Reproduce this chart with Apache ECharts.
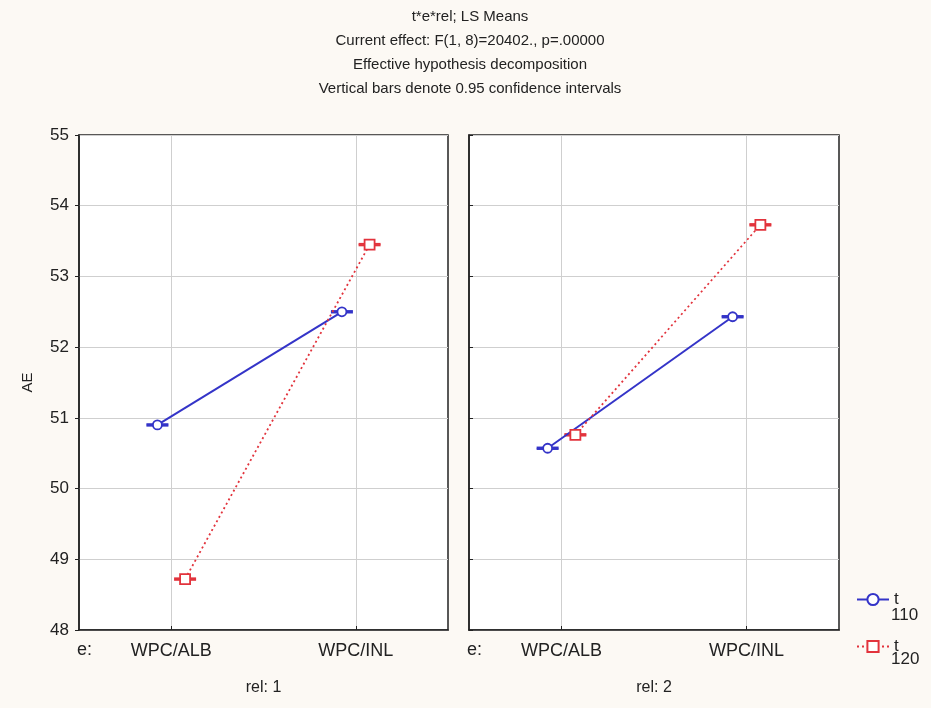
<!DOCTYPE html>
<html>
<head>
<meta charset="utf-8">
<script src="https://cdn.jsdelivr.net/npm/echarts@6/dist/echarts.min.js"></script>
<style>
  html, body { margin: 0; padding: 0; background: #fcf9f4; }
  #chart { width: 931px; height: 708px; }
</style>
</head>
<body>
<div id="chart"></div>
<script>
const categories = ["WPC/ALB", "WPC/INL"];
const panels = ["rel: 1", "rel: 2"];
const groups = ["110", "120"];

// LS means per panel (rel) and group (t)
const rel1T110 = [50.9, 52.5];
const rel1T120 = [48.72, 53.45];
const rel2T110 = [50.57, 52.43];
const rel2T120 = [50.76, 53.73];

// half-width of the 0.95 confidence intervals
const rel1T110Ci = [0.01, 0.01];
const rel1T120Ci = [0.01, 0.01];
const rel2T110Ci = [0.01, 0.01];
const rel2T120Ci = [0.01, 0.01];

const yTicks = [48, 49, 50, 51, 52, 53, 54, 55];

const FONT = "'Liberation Sans', Arial, sans-serif";
const BLUE = "#3434c8";
const RED = "#e2333c";
const OFFSET = 0.075;

const chartDom = document.getElementById("chart");
const chart = echarts.init(chartDom);

const pointsOf = (values, shift) =>
  values.map((v, i) => [i + 0.5 + shift, v]);
const barsOf = (values, ci, shift) =>
  values.map((v, i) => [i + 0.5 + shift, v - ci[i], v + ci[i]]);

const errorBar = (gridIdx, values, ci, shift, color) => ({
  type: "custom",
  xAxisIndex: gridIdx,
  yAxisIndex: gridIdx,
  z: 1,
  silent: true,
  data: barsOf(values, ci, shift),
  renderItem: (params, api) => {
    const lo = api.coord([api.value(0), api.value(1)]);
    const hi = api.coord([api.value(0), api.value(2)]);
    const w = 11;
    const style = { stroke: color, lineWidth: 2 };
    return {
      type: "group",
      children: [
        { type: "line", shape: { x1: lo[0], y1: lo[1], x2: hi[0], y2: hi[1] }, style },
        { type: "line", shape: { x1: lo[0] - w, y1: lo[1], x2: lo[0] + w, y2: lo[1] }, style },
        { type: "line", shape: { x1: hi[0] - w, y1: hi[1], x2: hi[0] + w, y2: hi[1] }, style },
      ],
    };
  },
});

const lineSeries = (gridIdx, name, values, shift, color, symbol, dashed) => ({
  name: name,
  type: "line",
  xAxisIndex: gridIdx,
  yAxisIndex: gridIdx,
  z: 3,
  data: pointsOf(values, shift),
  symbol: symbol,
  symbolSize: symbol === "rect" ? 10 : 9,
  itemStyle: { color: "#fff", borderColor: color, borderWidth: 1.8 },
  lineStyle: { color: color, width: dashed ? 1.8 : 2, type: dashed ? [2, 3] : "solid" },
  emphasis: { disabled: true },
});

const xAxisFor = (gridIdx) => ({
  type: "value",
  gridIndex: gridIdx,
  min: 0,
  max: 2,
  name: panels[gridIdx],
  nameLocation: "middle",
  nameGap: 50,
  nameTextStyle: { fontFamily: FONT, fontSize: 16, color: "#222" },
  axisLine: { show: true, lineStyle: { color: "#222", width: 1.5 } },
  axisTick: { show: true, customValues: [0.5, 1.5], length: 4, inside: true, lineStyle: { color: "#222" } },
  axisLabel: {
    customValues: [0.5, 1.5],
    formatter: (v) => categories[Math.round(v - 0.5)],
    fontFamily: FONT,
    fontSize: 18,
    color: "#222",
    margin: 12,
  },
  splitLine: { show: true, lineStyle: { color: "#cfcfcf", width: 1 } },
});

const yAxisFor = (gridIdx) => ({
  type: "value",
  gridIndex: gridIdx,
  min: yTicks[0],
  max: yTicks[yTicks.length - 1],
  interval: 1,
  name: gridIdx === 0 ? "AE" : "",
  nameLocation: "middle",
  nameGap: 44,
  nameTextStyle: { fontFamily: FONT, fontSize: 15, color: "#222" },
  axisLine: { show: true, lineStyle: { color: "#222", width: 1.5 } },
  axisTick: { show: true, length: 4, inside: gridIdx === 1, lineStyle: { color: "#222" } },
  axisLabel: {
    show: gridIdx === 0,
    fontFamily: FONT,
    fontSize: 17,
    color: "#222",
    margin: 10,
  },
  splitLine: { show: true, lineStyle: { color: "#cfcfcf", width: 1 } },
});

const option = {
  backgroundColor: "#fcf9f4",
  animation: false,
  title: {
    text: [
      "t*e*rel; LS Means",
      "Current effect: F(1, 8)=20402., p=.00000",
      "Effective hypothesis decomposition",
      "Vertical bars denote 0.95 confidence intervals",
    ].join("\n"),
    left: 465,
    textAlign: "center",
    top: 0,
    textStyle: {
      fontFamily: FONT,
      fontSize: 15,
      fontWeight: "normal",
      color: "#222",
      lineHeight: 24,
    },
  },
  legend: {
    orient: "vertical",
    left: 851,
    top: 586,
    itemWidth: 32,
    itemHeight: 14,
    itemGap: 30,
    selectedMode: false,
    data: ["t " + groups[0], "t " + groups[1]],
    formatter: () => "t",
    textStyle: { fontFamily: FONT, fontSize: 17, color: "#222" },
  },
  graphic: [
    { type: "text", left: 891, top: 607, style: { text: groups[0], font: "17px " + FONT, fill: "#222" } },
    { type: "text", left: 891, top: 651, style: { text: groups[1], font: "17px " + FONT, fill: "#222" } },
    { type: "text", left: 77, top: 641, style: { text: "e:", font: "18px " + FONT, fill: "#222" } },
    { type: "text", left: 467, top: 641, style: { text: "e:", font: "18px " + FONT, fill: "#222" } },
  ],
  grid: [
    { left: 79, right: 483, top: 135, bottom: 78, show: true, backgroundColor: "#fff", borderColor: "#222", borderWidth: 1.5 },
    { left: 469, right: 92, top: 135, bottom: 78, show: true, backgroundColor: "#fff", borderColor: "#222", borderWidth: 1.5 },
  ],
  xAxis: [xAxisFor(0), xAxisFor(1)],
  yAxis: [yAxisFor(0), yAxisFor(1)],
  series: [
    errorBar(0, rel1T110, rel1T110Ci, -OFFSET, BLUE),
    errorBar(0, rel1T120, rel1T120Ci, OFFSET, RED),
    errorBar(1, rel2T110, rel2T110Ci, -OFFSET, BLUE),
    errorBar(1, rel2T120, rel2T120Ci, OFFSET, RED),
    lineSeries(0, "t " + groups[0], rel1T110, -OFFSET, BLUE, "circle", false),
    lineSeries(0, "t " + groups[1], rel1T120, OFFSET, RED, "rect", true),
    lineSeries(1, "t " + groups[0], rel2T110, -OFFSET, BLUE, "circle", false),
    lineSeries(1, "t " + groups[1], rel2T120, OFFSET, RED, "rect", true),
  ],
};

chart.setOption(option);
</script>
</body>
</html>
